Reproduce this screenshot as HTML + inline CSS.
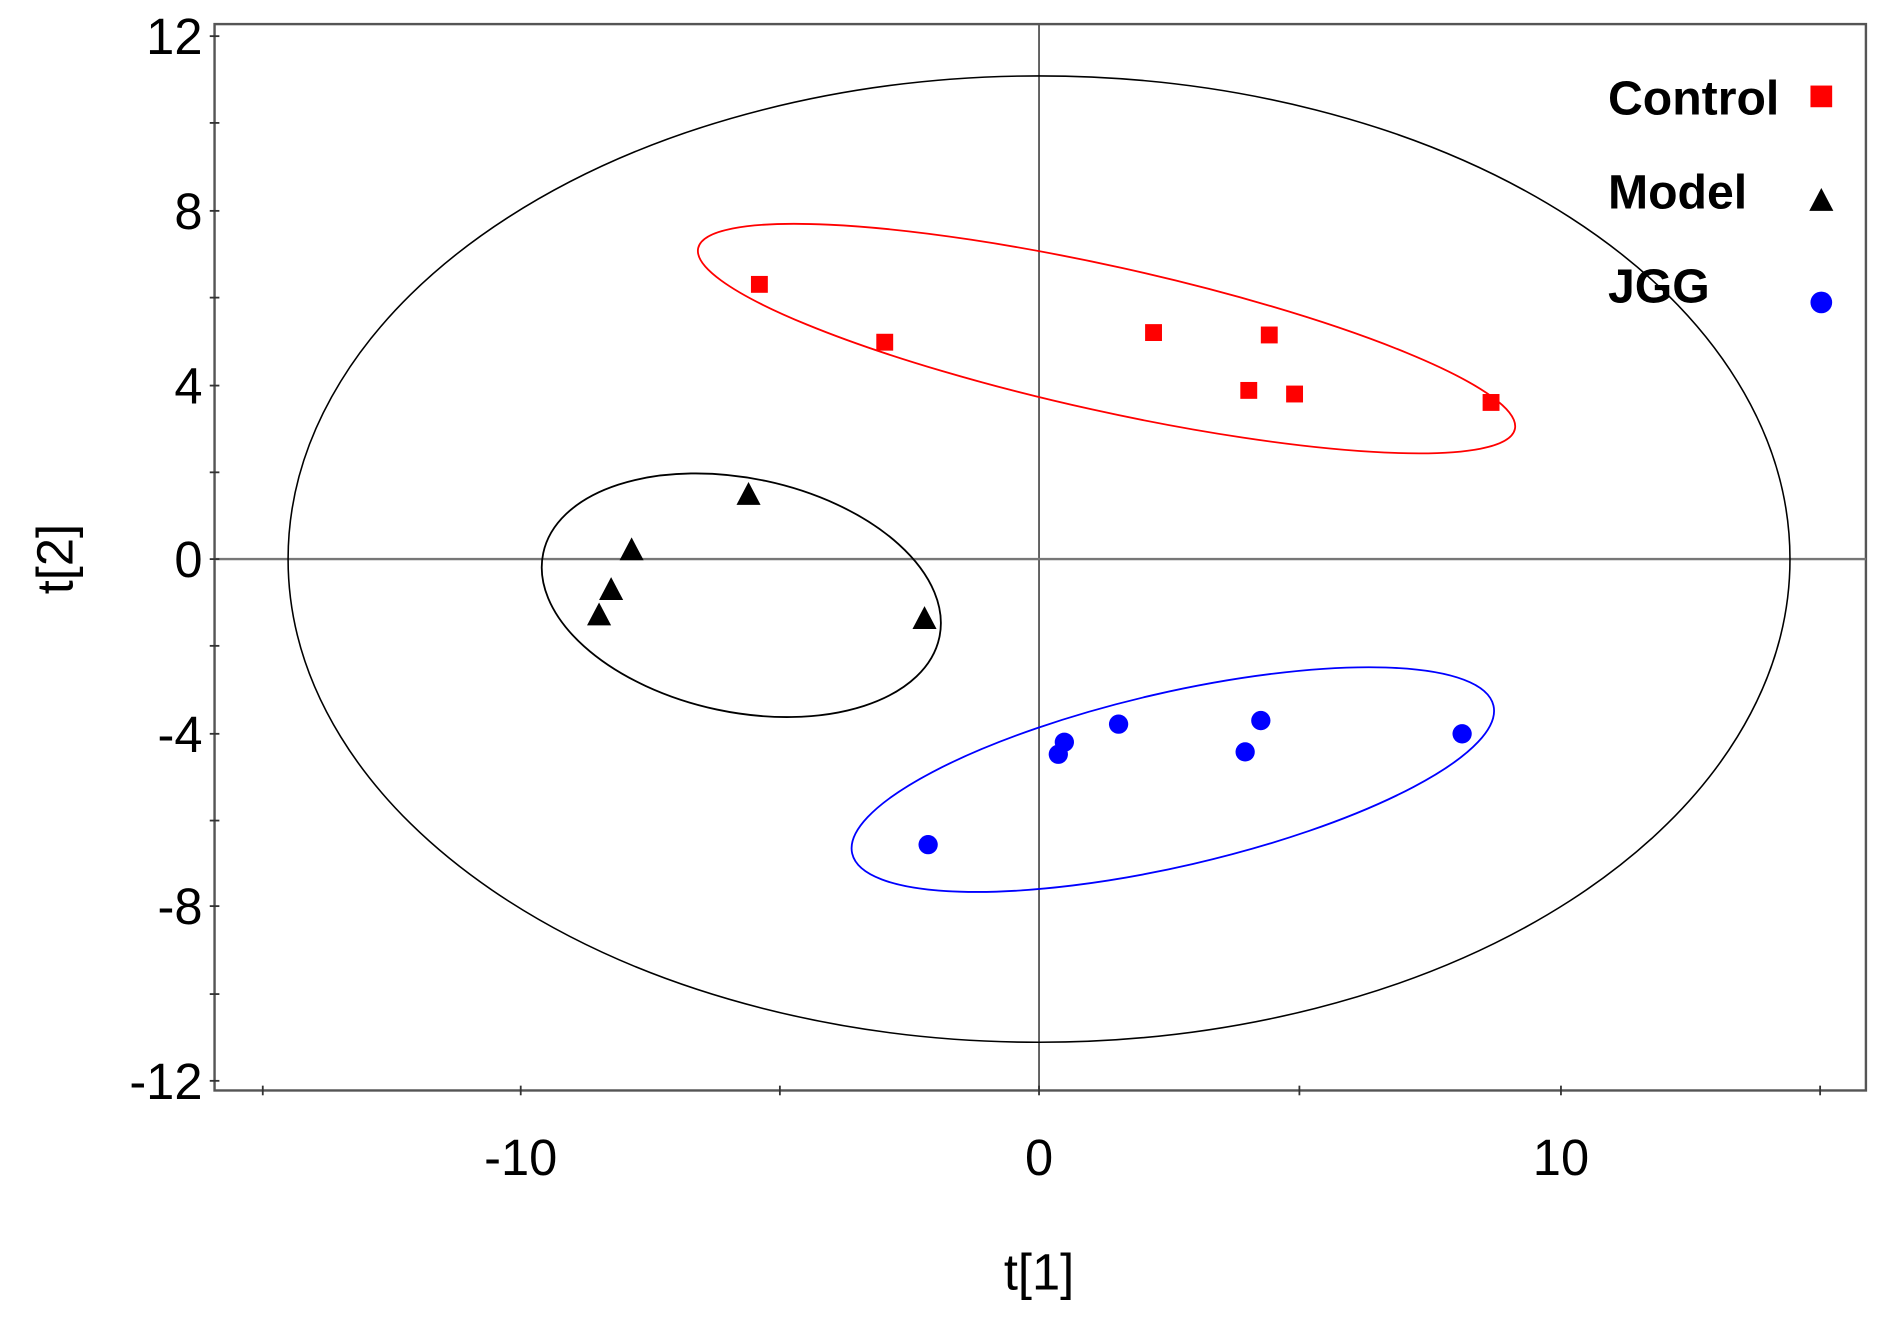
<!DOCTYPE html>
<html><head><meta charset="utf-8"><style>html,body{margin:0;padding:0;background:#fff}svg{display:block}</style></head>
<body>
<svg width="1884" height="1317" viewBox="0 0 1563 1093" preserveAspectRatio="none" xmlns="http://www.w3.org/2000/svg" font-family="Liberation Sans, Arial, sans-serif">
<rect x="178" y="20" width="1370" height="885" fill="#fff" stroke="#555" stroke-width="2"/>
<line x1="862" y1="20" x2="862" y2="905" stroke="#555" stroke-width="1.5"/>
<line x1="178" y1="464" x2="1548" y2="464" stroke="#777" stroke-width="2"/>
<g stroke="#333" stroke-width="1.5">
<line x1="174" y1="30" x2="182" y2="30"/><line x1="174" y1="102" x2="182" y2="102"/><line x1="174" y1="175" x2="182" y2="175"/><line x1="174" y1="247" x2="182" y2="247"/><line x1="174" y1="320" x2="182" y2="320"/><line x1="174" y1="392" x2="182" y2="392"/><line x1="174" y1="464" x2="182" y2="464"/><line x1="174" y1="536" x2="182" y2="536"/><line x1="174" y1="609" x2="182" y2="609"/><line x1="174" y1="681" x2="182" y2="681"/><line x1="174" y1="752" x2="182" y2="752"/><line x1="174" y1="825" x2="182" y2="825"/><line x1="174" y1="897" x2="182" y2="897"/>
<line x1="218" y1="901" x2="218" y2="909"/><line x1="432" y1="901" x2="432" y2="909"/><line x1="647" y1="901" x2="647" y2="909"/><line x1="862" y1="901" x2="862" y2="909"/><line x1="1078" y1="901" x2="1078" y2="909"/><line x1="1295" y1="901" x2="1295" y2="909"/><line x1="1510" y1="901" x2="1510" y2="909"/>
</g>
<g font-size="42" text-anchor="end" fill="#000">
<text x="168" y="45">12</text><text x="168" y="190">8</text><text x="168" y="335">4</text><text x="168" y="479">0</text><text x="168" y="624">-4</text><text x="168" y="767">-8</text><text x="168" y="912">-12</text>
</g>
<g font-size="42" text-anchor="middle" fill="#000">
<text x="432" y="975">-10</text><text x="862" y="975">0</text><text x="1295" y="975">10</text>
<text x="862" y="1070">t[1]</text>
<text transform="translate(60,464) rotate(-90)">t[2]</text>
</g>
<ellipse cx="862" cy="464" rx="623" ry="401" fill="none" stroke="#000" stroke-width="1.3"/>
<ellipse cx="918" cy="281" rx="347" ry="60" transform="rotate(12.5 918 281)" fill="none" stroke="#f00" stroke-width="1.5"/>
<ellipse cx="615" cy="494" rx="168" ry="97" transform="rotate(12 615 494)" fill="none" stroke="#000" stroke-width="1.5"/>
<ellipse cx="973" cy="647" rx="273" ry="72" transform="rotate(-13 973 647)" fill="none" stroke="#00f" stroke-width="1.5"/>
<g fill="#f00">
<rect x="623" y="229" width="14" height="14"/><rect x="727" y="277" width="14" height="14"/><rect x="950" y="269" width="14" height="14"/><rect x="1046" y="271" width="14" height="14"/><rect x="1029" y="317" width="14" height="14"/><rect x="1067" y="320" width="14" height="14"/><rect x="1230" y="327" width="14" height="14"/>
<rect x="1502" y="71" width="18" height="18"/>
</g>
<g fill="#000">
<polygon points="621,400 611,419 631,419"/><polygon points="524,446 514,465 534,465"/><polygon points="507,479 497,498 517,498"/><polygon points="497,500 487,519 507,519"/><polygon points="767,503 757,522 777,522"/>
<polygon points="1511,156 1501,175 1521,175"/>
</g>
<g fill="#00f">
<circle cx="770" cy="701" r="8"/><circle cx="878" cy="626" r="8"/><circle cx="883" cy="616" r="8"/><circle cx="928" cy="601" r="8"/><circle cx="1046" cy="598" r="8"/><circle cx="1033" cy="624" r="8"/><circle cx="1213" cy="609" r="8"/>
<circle cx="1511" cy="251" r="9"/>
</g>
<g font-size="40" font-weight="bold" fill="#000">
<text x="1334" y="95">Control</text><text x="1334" y="173">Model</text><text x="1334" y="251">JGG</text>
</g>
</svg>
</body></html>
